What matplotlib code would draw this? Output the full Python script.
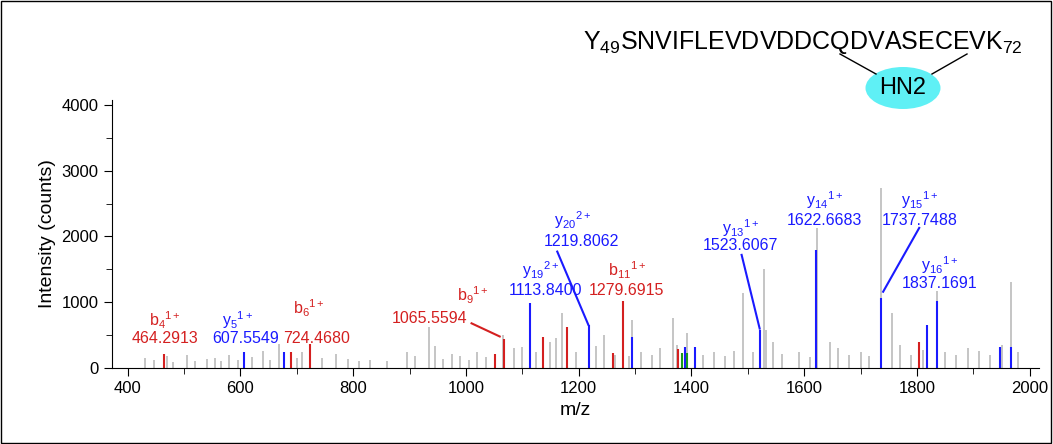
import matplotlib
matplotlib.use("Agg")
import matplotlib.pyplot as plt
from matplotlib.patches import Ellipse, Rectangle
from matplotlib.ticker import MultipleLocator

plt.rcParams['font.family'] = 'Liberation Sans'
plt.rcParams['mathtext.fontset'] = 'custom'
plt.rcParams['mathtext.rm'] = 'Liberation Sans'
plt.rcParams['mathtext.it'] = 'Liberation Sans'

# unassigned peaks (m/z, counts)
gray_mz = [430, 447, 470, 480, 505, 520, 540, 555, 565, 580, 595, 620, 640, 652, 668, 700, 710, 745, 770, 790,
           810, 830, 860, 895, 910, 934, 945, 960, 975, 990, 1005, 1020, 1035, 1065, 1085, 1100, 1125, 1150,
           1160, 1171, 1195, 1230, 1245, 1265, 1290, 1295, 1310, 1330, 1345, 1368, 1375, 1393, 1420, 1440,
           1460, 1475, 1492, 1510, 1529, 1533, 1545, 1560, 1590, 1610, 1622, 1645, 1660, 1680, 1700, 1715,
           1737, 1755, 1770, 1790, 1810, 1836, 1850, 1870, 1890, 1910, 1930, 1950, 1966, 1980]
gray_int = [150, 120, 180, 90, 200, 110, 140, 160, 100, 200, 130, 170, 260, 120, 360, 160, 240, 160, 210, 140,
            110, 120, 100, 250, 180, 620, 330, 140, 210, 180, 120, 240, 170, 500, 300, 320, 250, 400,
            460, 830, 250, 340, 500, 200, 180, 730, 240, 200, 300, 760, 350, 530, 200, 240,
            180, 260, 1140, 250, 1500, 580, 400, 220, 250, 170, 2130, 400, 300, 200, 240, 180,
            2735, 830, 350, 200, 280, 1170, 250, 200, 300, 260, 200, 350, 1310, 250]

b_mz = [464, 689, 724, 1051, 1067, 1136, 1180, 1260, 1278, 1377, 1804]
b_int = [210, 245, 365, 210, 440, 470, 620, 230, 1020, 290, 395]
y_mz = [607, 677, 1114, 1218, 1295, 1389, 1407, 1522, 1621, 1737, 1818, 1836, 1948, 1966]
y_int = [245, 250, 990, 650, 470, 320, 320, 580, 1795, 1060, 650, 1020, 320, 320]
g_mz = [1384, 1393]
g_int = [230, 230]

# labels: (name, mass, colour, name xy, mass xy, leader line or None)
labels = [
    (r'b$_{4}$$^{1+}$', '464.2913', 'r', (466, 730), (466, 456), None),
    (r'y$_{5}$$^{1+}$', '607.5549', 'b', (595, 730), (609, 456), None),
    (r'b$_{6}$$^{1+}$', '724.4680', 'r', (722, 910), (735, 456), None),
    (r'b$_{9}$$^{1+}$', '1065.5594', 'r', (1012, 1110), (935, 760), ((1010, 680), (1060, 480))),
    (r'y$_{19}$$^{2+}$', '1113.8400', 'b', (1132, 1490), (1141, 1186), None),
    (r'y$_{20}$$^{2+}$', '1219.8062', 'b', (1189, 2250), (1205, 1930), ((1162, 1770), (1217, 660))),
    (r'b$_{11}$$^{1+}$', '1279.6915', 'r', (1285, 1490), (1285, 1186), None),
    (r'y$_{13}$$^{1+}$', '1523.6067', 'b', (1487, 2130), (1487, 1870), ((1489, 1720), (1521, 600))),
    (r'y$_{14}$$^{1+}$', '1622.6683', 'b', (1636, 2555), (1636, 2250), None),
    (r'y$_{15}$$^{1+}$', '1737.7488', 'b', (1804, 2555), (1804, 2250), ((1804, 2130), (1740, 1160))),
    (r'y$_{16}$$^{1+}$', '1837.1691', 'b', (1840, 1566), (1840, 1290), None),
]
cols = {'r': '#d42020', 'b': '#1a1aff'}

fig = plt.figure(figsize=(10.53, 4.44), dpi=100)
ax = fig.add_axes([0.106, 0.171, 0.881, 0.604])

ax.vlines(gray_mz, 0, gray_int, color='#bbbbbb', lw=1.2)
ax.vlines(b_mz, 0, b_int, color=cols['r'], lw=1.5)
ax.vlines(y_mz, 0, y_int, color=cols['b'], lw=1.5)
ax.vlines(g_mz, 0, g_int, color='#1a9a1a', lw=1.5)

for name, mass, c, pn, pm, line in labels:
    ax.text(*pn, name, color=cols[c], fontsize=11.5, ha='center', va='center', clip_on=False)
    ax.text(*pm, mass, color=cols[c], fontsize=11.5, ha='center', va='center', clip_on=False)
    if line:
        ax.plot([line[0][0], line[1][0]], [line[0][1], line[1][1]], color=cols[c], lw=1.5, clip_on=False)

ax.set_xlim(371.6, 2017)
ax.set_ylim(0, 4075)
ax.set_xticks([400, 600, 800, 1000, 1200, 1400, 1600, 1800, 2000])
ax.xaxis.set_minor_locator(MultipleLocator(100))
ax.set_yticks([0, 1000, 2000, 3000, 4000])
ax.yaxis.set_minor_locator(MultipleLocator(500))
ax.tick_params(labelsize=12, length=6)
ax.tick_params(which='minor', length=4)
for s in ['top', 'right']:
    ax.spines[s].set_visible(False)
ax.set_xlabel('m/z', fontsize=14)
ax.set_ylabel('Intensity (counts)', fontsize=14)

fig.text(0.762, 0.905, r'Y$_{49}$SNVIFLEVDVDDCQDVASECEVK$_{72}$', fontsize=18, ha='center', va='center')
fig.add_artist(Ellipse((903 / 1053, 1 - 88 / 444), 75 / 1053, 42 / 444, transform=fig.transFigure,
                       facecolor='#5ff0f5', edgecolor='none'))
fig.text(903 / 1053, 1 - 88 / 444, 'HN2', fontsize=17, ha='center', va='center')
fig.add_artist(plt.Line2D([840 / 1053, 876 / 1053], [1 - 54 / 444, 1 - 74 / 444], color='k', lw=1, transform=fig.transFigure))
fig.add_artist(plt.Line2D([967 / 1053, 932 / 1053], [1 - 54 / 444, 1 - 74 / 444], color='k', lw=1, transform=fig.transFigure))
fig.add_artist(Rectangle((0.001, 0.002), 0.997, 0.996, transform=fig.transFigure, fill=False, edgecolor='k', lw=1))

fig.savefig('out.png')
